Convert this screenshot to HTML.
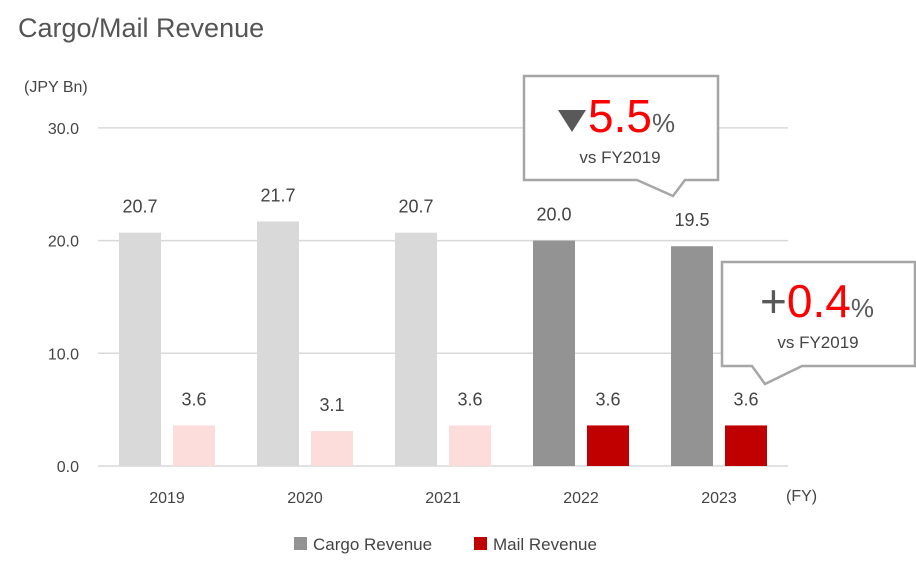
<!DOCTYPE html>
<html><head><meta charset="utf-8"><style>
body{margin:0;background:#fff;font-family:"Liberation Sans",sans-serif;}
svg text{font-family:"Liberation Sans",sans-serif;}
</style></head><body>
<svg width="916" height="562" xmlns="http://www.w3.org/2000/svg">
<text x="18" y="37" font-size="27" fill="#555">Cargo/Mail Revenue</text>
<text x="24" y="92" font-size="16" fill="#444">(JPY Bn)</text>
<text x="786" y="501" font-size="16" fill="#444">(FY)</text>
<g id="grid"></g><g id="bars"></g><g id="labels"></g>
<g>
<path d="M524,76 H718 V180 H685 L673,196 L637,180 H524 Z" fill="#fff" stroke="#a6a6a6" stroke-width="2.5"/>
<path d="M558,110 H586 L572,132 Z" fill="#595959"/>
<text x="588" y="132" font-size="46" fill="#ff0000">5.5<tspan fill="#595959" font-size="26">%</tspan></text>
<text x="620" y="163" text-anchor="middle" font-size="17" fill="#444">vs FY2019</text>
</g>
<g>
<path d="M722,262 H915 V366 H802 L765,384 L752,366 H722 Z" fill="#fff" stroke="#a6a6a6" stroke-width="2.5"/>
<text x="817" y="317" text-anchor="middle" font-size="46" fill="#ff0000"><tspan fill="#595959">+</tspan>0.4<tspan fill="#595959" font-size="26">%</tspan></text>
<text x="818" y="348" text-anchor="middle" font-size="17" fill="#444">vs FY2019</text>
</g>
<g>
<rect x="294" y="537" width="13" height="13" fill="#939393"/>
<text x="313" y="550" font-size="17" fill="#444">Cargo Revenue</text>
<rect x="474" y="537" width="13" height="13" fill="#c00000"/>
<text x="493" y="550" font-size="17" fill="#444">Mail Revenue</text>
</g>
</svg>
<script>
const years=["2019","2020","2021","2022","2023"];
const cargo=[20.7,21.7,20.7,20.0,19.5];
const mail=[3.6,3.1,3.6,3.6,3.6];
const yTicks=[0,10,20,30];
const NS="http://www.w3.org/2000/svg";
const y=v=>466-v*11.27;
const cx=i=>167+i*138;
function mk(t,a,p){const e=document.createElementNS(NS,t);for(const k in a)e.setAttribute(k,a[k]);p.appendChild(e);return e;}
const g=document.getElementById('grid'),b=document.getElementById('bars'),l=document.getElementById('labels');
yTicks.forEach(v=>{
 const ln=mk('line',{x1:98,x2:788,y1:y(v),y2:y(v),stroke:'#d9d9d9','stroke-width':1.5},g);
 
 
 const t=mk('text',{x:79,y:y(v)+6,'text-anchor':'end','font-size':16,fill:'#444'},g);
 t.textContent=v.toFixed(1);
 
 
});
years.forEach((yr,i)=>{
 const hi=i>=3;
 const r1=mk('rect',{x:cx(i)-48,y:y(cargo[i]),width:42,height:466-y(cargo[i]),fill:hi?'#939393':'#d9d9d9'},b);
 
 
 const r2=mk('rect',{x:cx(i)+6,y:y(mail[i]),width:42,height:466-y(mail[i]),fill:hi?'#c00000':'#fddcdc'},b);
 
 
 const t1=mk('text',{x:cx(i)-27,y:y(cargo[i])-20,'text-anchor':'middle','font-size':18,fill:'#444'},l);
 t1.textContent=cargo[i].toFixed(1);
 
 
 const t2=mk('text',{x:cx(i)+27,y:y(mail[i])-20,'text-anchor':'middle','font-size':18,fill:'#444'},l);
 t2.textContent=mail[i].toFixed(1);
 
 
 const t3=mk('text',{x:cx(i),y:503,'text-anchor':'middle','font-size':16,fill:'#444'},l);
 t3.textContent=yr;
 
 
});
</script>
</body></html>
